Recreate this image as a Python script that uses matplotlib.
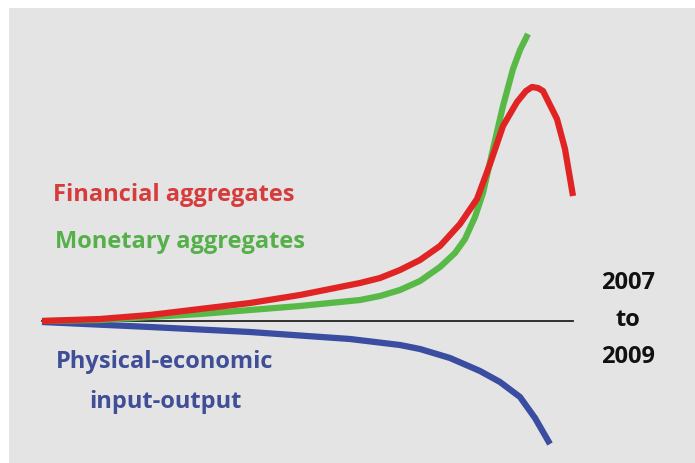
import matplotlib.pyplot as plt
import numpy as np

plt.rcParams['font.family'] = ['Open Sans', 'DejaVu Sans']

# Data (time index along x, deviation from the 2007 level along y)
t_fin = [0, 58, 108, 158, 208, 258, 288, 318, 338, 358, 378, 398, 418, 435, 448, 461, 475, 484, 490, 496, 501, 508, 515, 523, 531]
fin = [0, 2, 6, 12, 18, 26, 32, 38, 43, 51, 61, 75, 97, 122, 157, 195, 219, 230, 234, 233, 230, 216, 202, 172, 125]

t_mon = [0, 58, 108, 158, 208, 258, 288, 318, 338, 358, 378, 398, 413, 423, 433, 441, 451, 461, 471, 478, 486]
mon = [0, 1, 4, 7, 11, 15, 18, 21, 25, 31, 40, 54, 68, 82, 104, 128, 172, 215, 252, 271, 287]

t_phy = [0, 108, 208, 308, 358, 378, 408, 438, 458, 478, 493, 508]
phy = [-1, -6, -11, -18, -24, -28, -37, -50, -61, -76, -97, -123]

labels = ['Financial aggregates', 'Monetary aggregates', 'Physical-economic\ninput-output']
period = '2007\nto\n2009'

fig = plt.figure(figsize=(6.95, 4.64), dpi=100, facecolor='white')
ax = fig.add_axes([9 / 695, 0, 686 / 695, 455 / 464])
ax.set_xlim(-33, 653)
ax.set_ylim(-142, 313)
ax.axis('off')
ax.add_patch(plt.Rectangle((0, 0), 1, 1, transform=ax.transAxes, color='#e4e4e4', zorder=0))

ax.plot([0, 531], [0, 0], color='#222222', lw=1.3, zorder=2)
ax.plot(t_phy, phy, color='#3a4da0', lw=4.5, solid_capstyle='butt', solid_joinstyle='round', zorder=3)
ax.plot(t_mon, mon, color='#58b947', lw=4.5, solid_capstyle='butt', solid_joinstyle='round', zorder=3)
ax.plot(t_fin, fin, color='#e02424', lw=4.5, solid_capstyle='butt', solid_joinstyle='round', zorder=4)

ax.text(11, 127, labels[0], color='#d63c3c', fontsize=17, fontweight='bold', va='center', ha='left')
ax.text(13, 80, labels[1], color='#56b04a', fontsize=17, fontweight='bold', va='center', ha='left')
ax.text(123, -60, labels[2], color='#3f4e96', fontsize=17, fontweight='bold', va='center', ha='center',
        linespacing=1.9)
ax.text(586, 2, period, color='#111111', fontsize=17, fontweight='bold', va='center', ha='center',
        linespacing=1.7)

plt.savefig('out.png', dpi=100, facecolor='white')
